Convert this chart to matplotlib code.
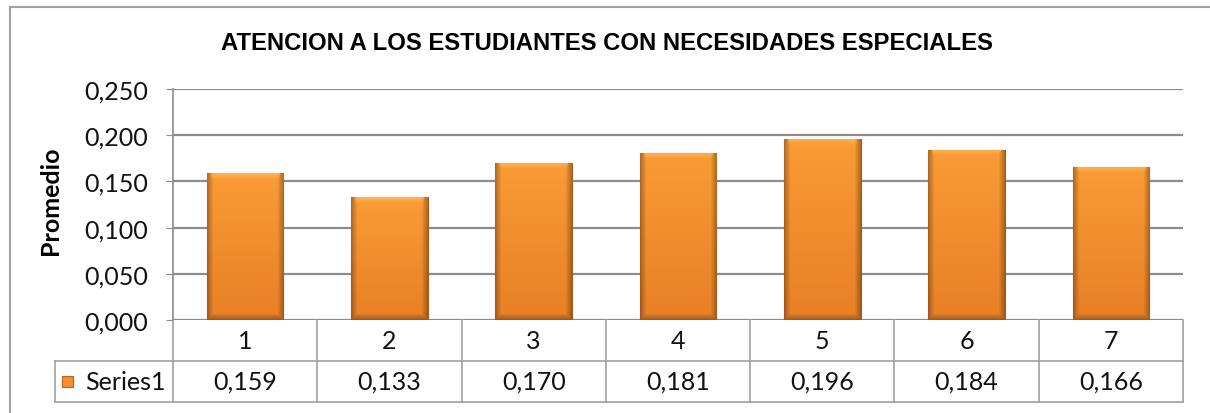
import matplotlib.pyplot as plt
import numpy as np
from matplotlib.patches import Rectangle

categories = ['1', '2', '3', '4', '5', '6', '7']
promedio = [0.159, 0.133, 0.170, 0.181, 0.196, 0.184, 0.166]
series_name = 'Series1'
yticks = [0.0, 0.05, 0.10, 0.15, 0.20, 0.25]

W, H = 1210, 414
fig = plt.figure(figsize=(W / 100, H / 100), dpi=100)

# axes placed in pixel terms of the reference
x0, x1 = 173, 1183
ytop, ybot = 90, 321
ax = fig.add_axes([x0 / W, 1 - ybot / H, (x1 - x0) / W, (ybot - ytop) / H])

grid_c = '#8c8c8c'
x = np.arange(len(categories))
width = 0.53
ymax = 0.25
px_per_x = (x1 - x0) / len(categories)
px_per_y = (ybot - ytop) / ymax
fs = 18


def bevel_image(wpx, hpx):
    # orange bar with a vertical gradient and darker bevelled edges
    top = np.array([0.98, 0.61, 0.21])
    bot = np.array([0.91, 0.50, 0.15])
    yy, xx = np.mgrid[0:hpx, 0:wpx]
    t = (yy / max(hpx - 1, 1))[..., None]
    img = bot * (1 - t) + top * t
    b = 6.0
    dl = xx
    dr = wpx - 1 - xx
    db = yy
    dt = hpx - 1 - yy
    side = np.clip(1 - np.minimum(dl, dr) / b, 0, 1)
    bottom = np.clip(1 - db / b, 0, 1)
    dark = np.maximum(side, bottom)[..., None]
    img = img * (1 - 0.3 * dark)
    light = np.clip(1 - dt / b, 0, 1)[..., None] * (np.minimum(dl, dr) > 3)[..., None]
    img = img * (1 - 0.5 * light) + np.array([1.0, 0.80, 0.45]) * 0.5 * light
    return np.clip(img, 0, 1)


bars = ax.bar(x, promedio, width=width, color='#f5922f', edgecolor='#a85a18',
              linewidth=0.8, zorder=3)
for b in bars:
    bx, by = b.get_x(), b.get_y()
    bw, bh = b.get_width(), b.get_height()
    img = bevel_image(int(round(bw * px_per_x)), int(round(bh * px_per_y)))
    im = ax.imshow(img, origin='lower', aspect='auto', interpolation='bilinear',
                   extent=[bx, bx + bw, by, by + bh], zorder=3.5)
    im.set_clip_path(b)

ax.set_xlim(-0.5, len(categories) - 0.5)
ax.set_ylim(0, ymax)
ax.set_yticks(yticks)
ax.set_yticklabels([f'{v:.3f}'.replace('.', ',') for v in yticks],
                   fontsize=fs, family='Lato', color='#111111')
ax.tick_params(axis='y', length=5, color=grid_c, pad=13)
ax.set_xticks([])
ax.yaxis.grid(True, color=grid_c, linewidth=1.6, zorder=0)
ax.set_axisbelow(True)
for s in ['top', 'right', 'bottom']:
    ax.spines[s].set_visible(False)
ax.spines['left'].set_color(grid_c)
ax.spines['left'].set_linewidth(1.2)

ax.set_ylabel('Promedio', fontsize=18, fontweight='bold', family='Lato')
ax.yaxis.set_label_coords((62 - x0) / (x1 - x0), 0.52)

# data table below the axes
row_h = 41 / (ybot - ytop)
tab_c = '#a0a0a0'
n = len(categories)
for i in range(n + 1):
    ax.plot([i / n, i / n], [0, -2 * row_h], transform=ax.transAxes,
            color=tab_c, lw=1.2, clip_on=False)
ax.plot([0, 1], [-row_h, -row_h], transform=ax.transAxes, color=tab_c, lw=1.2, clip_on=False)
legx = (55 - x0) / (x1 - x0)
ax.plot([legx, 1], [-2 * row_h, -2 * row_h], transform=ax.transAxes,
        color=tab_c, lw=1.2, clip_on=False)
ax.plot([legx, 0], [-row_h, -row_h], transform=ax.transAxes, color=tab_c, lw=1.2, clip_on=False)
ax.plot([legx, legx], [-row_h, -2 * row_h], transform=ax.transAxes,
        color=tab_c, lw=1.2, clip_on=False)
for i, (c, v) in enumerate(zip(categories, promedio)):
    xc = (i + 0.5) / n
    ax.text(xc, -0.5 * row_h, c, transform=ax.transAxes, ha='center',
            va='center', fontsize=fs, family='Lato', color='#111111')
    ax.text(xc, -1.5 * row_h, f'{v:.3f}'.replace('.', ','), transform=ax.transAxes,
            ha='center', va='center', fontsize=fs, family='Lato', color='#111111')

# legend key inside the table
sw = 11 / (x1 - x0)
sh = 11 / (ybot - ytop)
ax.add_patch(Rectangle((legx + 7 / (x1 - x0), -1.5 * row_h - sh / 2), sw, sh,
                       transform=ax.transAxes, facecolor='#f29030',
                       edgecolor='#b9641c', lw=0.8, clip_on=False))
ax.text(legx + 30 / (x1 - x0), -1.5 * row_h, series_name, transform=ax.transAxes,
        ha='left', va='center', fontsize=fs, family='Lato', color='#111111')

fig.text(607 / W, 1 - 43 / H, 'ATENCION A LOS ESTUDIANTES CON NECESIDADES ESPECIALES',
         ha='center', va='center', fontsize=17.2, fontweight='bold',
         family='Liberation Sans')

# chart frame (only top and left are visible in the reference)
fig.add_artist(plt.Line2D([10 / W, 1], [1 - 8 / H, 1 - 8 / H], color='#a0a0a0', lw=1.5))
fig.add_artist(plt.Line2D([10 / W, 10 / W], [0, 1 - 8 / H], color='#a0a0a0', lw=1.5))

fig.savefig('out.png', dpi=100)
